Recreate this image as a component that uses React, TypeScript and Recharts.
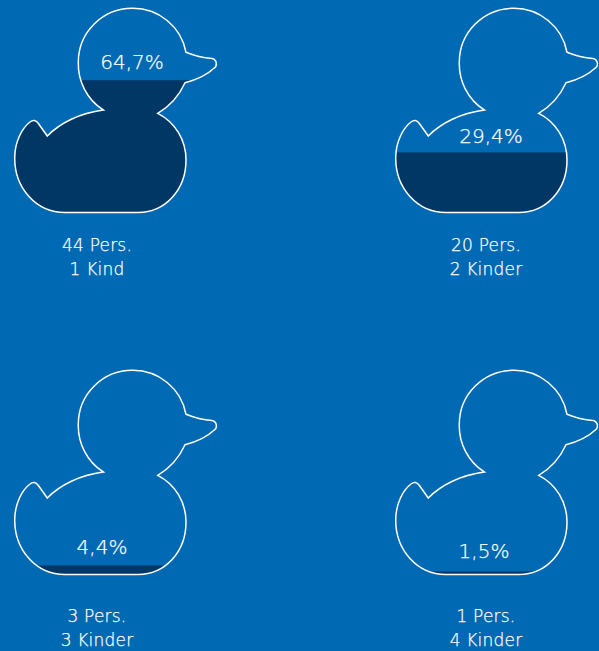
import { BarChart, Bar, XAxis, YAxis, LabelList } from 'recharts';

const persons = ['44 Pers.', '20 Pers.', '3 Pers.', '1 Pers.'];
const children = ['1 Kind', '2 Kinder', '3 Kinder', '4 Kinder'];
const shares = [64.7, 29.4, 4.4, 1.5];

// where each duck sits on the page, and how far its texts sit from the defaults
const layouts = [
  { left: 0, top: 0, labelDx: 17, labelDy: -11, captionDx: -18, captionDy: 30 },
  { left: 381, top: 0, labelDx: -5, labelDy: -9, captionDx: -10, captionDy: 30 },
  { left: 0, top: 362, labelDx: -13, labelDy: -12, captionDx: -18, captionDy: 39 },
  { left: 381, top: 362, labelDx: -12, labelDy: -13, captionDx: -10, captionDy: 39 },
];

const BG = '#0069b4';
const FILL = '#003764';
const INK = '#ffffff';
const FONT = '"DejaVu Sans", sans-serif';

const CHART_W = 230;
const CHART_H = 290;
const PLOT_TOP = 8;
const PLOT_BOTTOM = 212.5;

const DUCK =
  'M103.3 110 A55 55 0 0 1 78.3 62 A54 54 0 0 1 132.3 8.3 A54 54 0 0 1 186 52.3 C195 56 205 58 212 58.5 C216 59 217.5 64 215.5 67 ' +
  'C207 75 196 80 185 82.7 C179 96 170 106 157.7 113.3 C175 122 186 140 186 160 ' +
  'C186 190 165 212.5 138 212.5 L65 212.5 C36 212.5 14.7 188 14.7 158 C14.7 142 22 128 30 122 ' +
  'C33 119.5 36 120 38 123 L47.3 136 C60 123 80 113 103.3 110 Z';

function DuckBar({ x, y, width, height, clipId }: any) {
  return (
    <g>
      <clipPath id={clipId}>
        <path d={DUCK} />
      </clipPath>
      <rect x={x} y={y} width={width + 4} height={height} fill={FILL} clipPath={`url(#${clipId})`} />
      <path d={DUCK} fill="none" stroke="#fff" strokeWidth={1.5} />
    </g>
  );
}

function Caption({ x, y, payload, dx, dy }: any) {
  return (
    <text
      x={x + dx}
      textAnchor="middle"
      fontFamily={FONT}
      fontWeight={200}
      fontSize={17}
      letterSpacing={0.2}
      fill={INK}
      stroke={INK}
      strokeWidth={0.25}
    >
      <tspan x={x + dx} y={y + dy}>{payload.value}</tspan>
      <tspan x={x + dx} y={y + dy + 24}>{children[persons.indexOf(payload.value)]}</tspan>
    </text>
  );
}

function ShareLabel({ x, y, width, value, dx, dy }: any) {
  return (
    <text
      x={x + width / 2 + dx}
      y={y + dy}
      textAnchor="middle"
      fontFamily={FONT}
      fontWeight={200}
      fontSize={20}
      fill={INK}
      stroke={INK}
      strokeWidth={0.25}
    >
      {`${String(value).replace('.', ',')}%`}
    </text>
  );
}

function Duck({ i }: { i: number }) {
  const { left, top, labelDx, labelDy, captionDx, captionDy } = layouts[i];
  const data = [{ name: persons[i], share: shares[i] }];
  return (
    <div style={{ position: 'absolute', left, top }}>
      <BarChart
        width={CHART_W}
        height={CHART_H}
        data={data}
        barCategoryGap={0}
        margin={{ top: PLOT_TOP, right: 14, bottom: 0, left: 14 }}
      >
        <XAxis
          dataKey="name"
          height={CHART_H - PLOT_BOTTOM}
          axisLine={false}
          tickLine={false}
          interval={0}
          tick={(props: any) => <Caption {...props} dx={captionDx} dy={captionDy} />}
        />
        <YAxis hide domain={[0, 100]} />
        <Bar
          dataKey="share"
          isAnimationActive={false}
          shape={(props: any) => <DuckBar {...props} clipId={`duck-${i}`} />}
        >
          <LabelList
            dataKey="share"
            content={(props: any) => <ShareLabel {...props} dx={labelDx} dy={labelDy} />}
          />
        </Bar>
      </BarChart>
    </div>
  );
}

export default function App() {
  return (
    <div style={{ position: 'absolute', left: 0, top: 0, width: 599, height: 651, background: BG, overflow: 'hidden' }}>
      {shares.map((_, i) => (
        <Duck key={persons[i]} i={i} />
      ))}
    </div>
  );
}
